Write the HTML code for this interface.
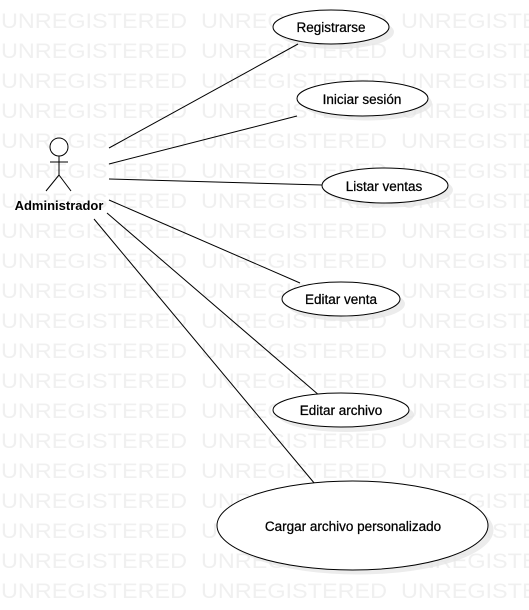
<!DOCTYPE html>
<html><head><meta charset="utf-8"><style>
html,body{margin:0;padding:0;background:#fff;}
svg{display:block;}
</style></head><body>
<svg width="529" height="610" xmlns="http://www.w3.org/2000/svg">
<g fill="#f0f0f0" font-family="Liberation Sans, sans-serif" font-size="21">
<text x="1" y="28" textLength="186" lengthAdjust="spacingAndGlyphs">UNREGISTERED</text><text x="201" y="28" textLength="186" lengthAdjust="spacingAndGlyphs">UNREGISTERED</text><text x="401" y="28" textLength="186" lengthAdjust="spacingAndGlyphs">UNREGISTERED</text>
<text x="1" y="58" textLength="186" lengthAdjust="spacingAndGlyphs">UNREGISTERED</text><text x="201" y="58" textLength="186" lengthAdjust="spacingAndGlyphs">UNREGISTERED</text><text x="401" y="58" textLength="186" lengthAdjust="spacingAndGlyphs">UNREGISTERED</text>
<text x="1" y="88" textLength="186" lengthAdjust="spacingAndGlyphs">UNREGISTERED</text><text x="201" y="88" textLength="186" lengthAdjust="spacingAndGlyphs">UNREGISTERED</text><text x="401" y="88" textLength="186" lengthAdjust="spacingAndGlyphs">UNREGISTERED</text>
<text x="1" y="118" textLength="186" lengthAdjust="spacingAndGlyphs">UNREGISTERED</text><text x="201" y="118" textLength="186" lengthAdjust="spacingAndGlyphs">UNREGISTERED</text><text x="401" y="118" textLength="186" lengthAdjust="spacingAndGlyphs">UNREGISTERED</text>
<text x="1" y="148" textLength="186" lengthAdjust="spacingAndGlyphs">UNREGISTERED</text><text x="201" y="148" textLength="186" lengthAdjust="spacingAndGlyphs">UNREGISTERED</text><text x="401" y="148" textLength="186" lengthAdjust="spacingAndGlyphs">UNREGISTERED</text>
<text x="1" y="178" textLength="186" lengthAdjust="spacingAndGlyphs">UNREGISTERED</text><text x="201" y="178" textLength="186" lengthAdjust="spacingAndGlyphs">UNREGISTERED</text><text x="401" y="178" textLength="186" lengthAdjust="spacingAndGlyphs">UNREGISTERED</text>
<text x="1" y="208" textLength="186" lengthAdjust="spacingAndGlyphs">UNREGISTERED</text><text x="201" y="208" textLength="186" lengthAdjust="spacingAndGlyphs">UNREGISTERED</text><text x="401" y="208" textLength="186" lengthAdjust="spacingAndGlyphs">UNREGISTERED</text>
<text x="1" y="238" textLength="186" lengthAdjust="spacingAndGlyphs">UNREGISTERED</text><text x="201" y="238" textLength="186" lengthAdjust="spacingAndGlyphs">UNREGISTERED</text><text x="401" y="238" textLength="186" lengthAdjust="spacingAndGlyphs">UNREGISTERED</text>
<text x="1" y="268" textLength="186" lengthAdjust="spacingAndGlyphs">UNREGISTERED</text><text x="201" y="268" textLength="186" lengthAdjust="spacingAndGlyphs">UNREGISTERED</text><text x="401" y="268" textLength="186" lengthAdjust="spacingAndGlyphs">UNREGISTERED</text>
<text x="1" y="298" textLength="186" lengthAdjust="spacingAndGlyphs">UNREGISTERED</text><text x="201" y="298" textLength="186" lengthAdjust="spacingAndGlyphs">UNREGISTERED</text><text x="401" y="298" textLength="186" lengthAdjust="spacingAndGlyphs">UNREGISTERED</text>
<text x="1" y="328" textLength="186" lengthAdjust="spacingAndGlyphs">UNREGISTERED</text><text x="201" y="328" textLength="186" lengthAdjust="spacingAndGlyphs">UNREGISTERED</text><text x="401" y="328" textLength="186" lengthAdjust="spacingAndGlyphs">UNREGISTERED</text>
<text x="1" y="358" textLength="186" lengthAdjust="spacingAndGlyphs">UNREGISTERED</text><text x="201" y="358" textLength="186" lengthAdjust="spacingAndGlyphs">UNREGISTERED</text><text x="401" y="358" textLength="186" lengthAdjust="spacingAndGlyphs">UNREGISTERED</text>
<text x="1" y="388" textLength="186" lengthAdjust="spacingAndGlyphs">UNREGISTERED</text><text x="201" y="388" textLength="186" lengthAdjust="spacingAndGlyphs">UNREGISTERED</text><text x="401" y="388" textLength="186" lengthAdjust="spacingAndGlyphs">UNREGISTERED</text>
<text x="1" y="418" textLength="186" lengthAdjust="spacingAndGlyphs">UNREGISTERED</text><text x="201" y="418" textLength="186" lengthAdjust="spacingAndGlyphs">UNREGISTERED</text><text x="401" y="418" textLength="186" lengthAdjust="spacingAndGlyphs">UNREGISTERED</text>
<text x="1" y="448" textLength="186" lengthAdjust="spacingAndGlyphs">UNREGISTERED</text><text x="201" y="448" textLength="186" lengthAdjust="spacingAndGlyphs">UNREGISTERED</text><text x="401" y="448" textLength="186" lengthAdjust="spacingAndGlyphs">UNREGISTERED</text>
<text x="1" y="478" textLength="186" lengthAdjust="spacingAndGlyphs">UNREGISTERED</text><text x="201" y="478" textLength="186" lengthAdjust="spacingAndGlyphs">UNREGISTERED</text><text x="401" y="478" textLength="186" lengthAdjust="spacingAndGlyphs">UNREGISTERED</text>
<text x="1" y="508" textLength="186" lengthAdjust="spacingAndGlyphs">UNREGISTERED</text><text x="201" y="508" textLength="186" lengthAdjust="spacingAndGlyphs">UNREGISTERED</text><text x="401" y="508" textLength="186" lengthAdjust="spacingAndGlyphs">UNREGISTERED</text>
<text x="1" y="538" textLength="186" lengthAdjust="spacingAndGlyphs">UNREGISTERED</text><text x="201" y="538" textLength="186" lengthAdjust="spacingAndGlyphs">UNREGISTERED</text><text x="401" y="538" textLength="186" lengthAdjust="spacingAndGlyphs">UNREGISTERED</text>
<text x="1" y="568" textLength="186" lengthAdjust="spacingAndGlyphs">UNREGISTERED</text><text x="201" y="568" textLength="186" lengthAdjust="spacingAndGlyphs">UNREGISTERED</text><text x="401" y="568" textLength="186" lengthAdjust="spacingAndGlyphs">UNREGISTERED</text>
<text x="1" y="598" textLength="186" lengthAdjust="spacingAndGlyphs">UNREGISTERED</text><text x="201" y="598" textLength="186" lengthAdjust="spacingAndGlyphs">UNREGISTERED</text><text x="401" y="598" textLength="186" lengthAdjust="spacingAndGlyphs">UNREGISTERED</text>
</g>
<g fill="#e4e4e4" opacity="0.7">
<ellipse cx="336" cy="32" rx="58" ry="17"/>
<ellipse cx="367" cy="103" rx="65" ry="17.5"/>
<ellipse cx="390" cy="190" rx="63" ry="17.5"/>
<ellipse cx="346" cy="304" rx="59" ry="17"/>
<ellipse cx="346" cy="415" rx="68" ry="17"/>
<ellipse cx="358" cy="530" rx="135.5" ry="44.5"/>
</g>
<g stroke="#000" stroke-width="1">
<line x1="109" y1="148" x2="298" y2="44"/>
<line x1="109" y1="164" x2="297" y2="116"/>
<line x1="109" y1="179" x2="322" y2="185"/>
<line x1="109" y1="200" x2="300" y2="283"/>
<line x1="107" y1="213" x2="320" y2="396"/>
<line x1="94" y1="219" x2="315" y2="484"/>
</g>
<g fill="#fff" stroke="#000" stroke-width="1">
<ellipse cx="331" cy="27" rx="58" ry="17"/>
<ellipse cx="362.5" cy="98.5" rx="65.5" ry="17.5"/>
<ellipse cx="385" cy="185.5" rx="63" ry="17.5"/>
<ellipse cx="341" cy="299" rx="59" ry="17"/>
<ellipse cx="341" cy="410" rx="68" ry="17"/>
<ellipse cx="352.5" cy="525.5" rx="135.5" ry="44.5"/>
</g>
<g font-family="Liberation Sans, sans-serif" font-size="13.5" fill="#000" text-anchor="middle" stroke="#000" stroke-width="0.25">
<text x="331" y="32">Registrarse</text>
<text x="362" y="104">Iniciar sesión</text>
<text x="384" y="191">Listar ventas</text>
<text x="341" y="304">Editar venta</text>
<text x="341" y="415">Editar archivo</text>
<text x="353" y="531">Cargar archivo personalizado</text>
<text x="59" y="210" font-size="13" font-weight="bold" stroke="none">Administrador</text>
</g>
<g stroke="#000" stroke-width="1" fill="#fff">
<circle cx="59" cy="147" r="9"/>
<line x1="59" y1="156" x2="59" y2="175"/>
<line x1="50" y1="162" x2="68" y2="162"/>
<line x1="59" y1="175" x2="46" y2="191"/>
<line x1="59" y1="175" x2="71" y2="191"/>
</g>
</svg>
</body></html>
